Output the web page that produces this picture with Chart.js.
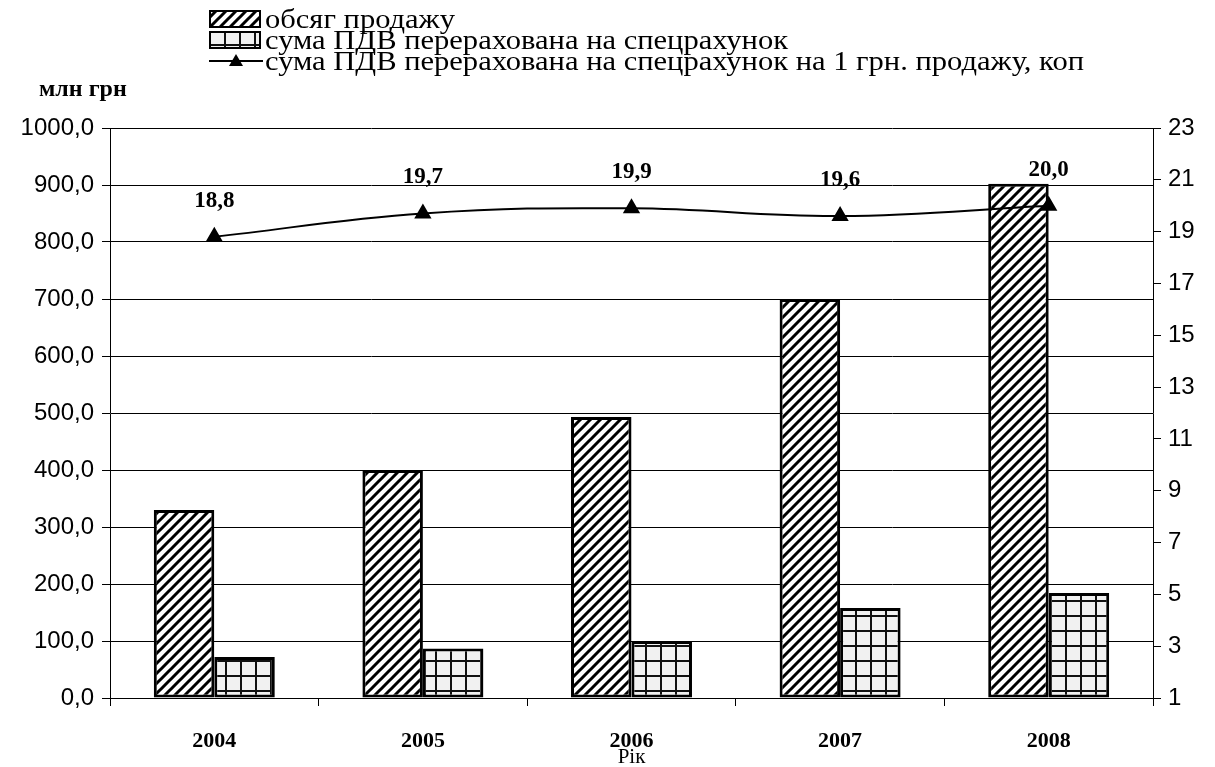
<!DOCTYPE html>
<html>
<head>
<meta charset="utf-8">
<script src="https://cdn.jsdelivr.net/npm/chart.js@4.4.1/dist/chart.umd.min.js"></script>
<style>
  html, body { margin: 0; padding: 0; background: #fff; }
  #wrap { position: relative; width: 1215px; height: 767px; }
  #grafico { position: absolute; left: 0; top: 0; }
  .fila { position: absolute; left: 209px; height: 22px; white-space: nowrap; }
  .fila canvas { position: absolute; left: 0; top: 0; }
  .fila span { position: absolute; left: 56px; top: 0; line-height: 22px;
    font-family: "Liberation Serif", serif; font-size: 27px; color: #000;
    transform-origin: 0 50%; }
  #unidad { position: absolute; left: 39px; top: 75px; font-family: "Liberation Serif", serif;
    font-weight: bold; font-size: 24px; }
</style>
</head>
<body>
<div id="wrap">
  <canvas id="grafico" width="1215" height="767"></canvas>
  <div class="fila" style="top:8px"><canvas id="sw0" width="52" height="22"></canvas><span>обсяг продажу</span></div>
  <div class="fila" style="top:29px"><canvas id="sw1" width="52" height="22"></canvas><span>сума ПДВ перерахована на спецрахунок</span></div>
  <div class="fila" style="top:50px"><canvas id="sw2" width="54" height="22"></canvas><span>сума ПДВ перерахована на спецрахунок на 1 грн. продажу, коп</span></div>
  <div id="unidad">млн грн</div>
</div>
<script>
const anios = ["2004", "2005", "2006", "2007", "2008"];
const obsyagProdazhu = [330, 400, 493, 700, 902];
const sumaPDV = [72, 87, 100, 158, 184];
const pdvNaGrn = [18.8, 19.7, 19.9, 19.6, 20.0];
const ticksIzq = [0, 100, 200, 300, 400, 500, 600, 700, 800, 900, 1000];
const ticksDer = [1, 3, 5, 7, 9, 11, 13, 15, 17, 19, 21, 23];

function patronRayas() {
  const c = document.createElement("canvas");
  c.width = 10; c.height = 10;
  const g = c.getContext("2d");
  g.fillStyle = "#fff";
  g.fillRect(0, 0, 10, 10);
  g.strokeStyle = "#000";
  g.lineWidth = 3;
  g.beginPath();
  g.moveTo(-1, 11); g.lineTo(11, -1);
  g.moveTo(-3, 3); g.lineTo(3, -3);
  g.moveTo(7, 13); g.lineTo(13, 7);
  g.stroke();
  return c;
}

function patronCuadros() {
  const c = document.createElement("canvas");
  c.width = 15; c.height = 15;
  const g = c.getContext("2d");
  g.fillStyle = "#f1f1f1";
  g.fillRect(0, 0, 15, 15);
  g.fillStyle = "#111";
  g.fillRect(0, 0, 15, 2);
  g.fillRect(0, 0, 2, 15);
  return c;
}

const ctx = document.getElementById("grafico").getContext("2d");
const rayas = ctx.createPattern(patronRayas(), "repeat");
const cuadros = ctx.createPattern(patronCuadros(), "repeat");

// muestras de la leyenda
(function () {
  let g = document.getElementById("sw0").getContext("2d");
  g.fillStyle = g.createPattern(patronRayas(), "repeat");
  g.fillRect(1, 3, 50, 16);
  g.lineWidth = 2; g.strokeStyle = "#000"; g.strokeRect(1, 3, 50, 16);
  g = document.getElementById("sw1").getContext("2d");
  g.fillStyle = g.createPattern(patronCuadros(), "repeat");
  g.fillRect(1, 3, 50, 16);
  g.lineWidth = 2; g.strokeStyle = "#000"; g.strokeRect(1, 3, 50, 16);
  g = document.getElementById("sw2").getContext("2d");
  g.strokeStyle = "#000"; g.lineWidth = 2;
  g.beginPath(); g.moveTo(0, 11); g.lineTo(54, 11); g.stroke();
  g.fillStyle = "#000";
  g.beginPath(); g.moveTo(27, 4); g.lineTo(34, 16); g.lineTo(20, 16); g.closePath(); g.fill();
})();

// ajustar el ancho del texto de la leyenda al de la referencia
(function () {
  const spans = document.querySelectorAll(".fila span");
  const ultimo = spans[spans.length - 1];
  const k = 819 / ultimo.getBoundingClientRect().width;
  spans.forEach(s => s.style.transform = "scaleX(" + k + ")");
})();

const etiquetas = {
  id: "etiquetas",
  afterDatasetsDraw(chart) {
    const meta = chart.getDatasetMeta(0);
    const c = chart.ctx;
    c.save();
    c.font = "bold 23px 'Liberation Serif'";
    c.fillStyle = "#000";
    c.textAlign = "center";
    c.textBaseline = "middle";
    meta.data.forEach((p, i) => {
      c.fillText(pdvNaGrn[i].toFixed(1).replace(".", ","), p.x, p.y - 36);
    });
    c.restore();
  }
};

new Chart(ctx, {
  data: {
    labels: anios,
    datasets: [
      {
        type: "line",
        label: "сума ПДВ перерахована на спецрахунок на 1 грн. продажу, коп",
        data: pdvNaGrn,
        yAxisID: "y1",
        borderColor: "#000",
        borderWidth: 2,
        backgroundColor: "#000",
        pointStyle: "triangle",
        pointRadius: 8,
        tension: 0.4,
        order: 0
      },
      {
        type: "bar",
        label: "обсяг продажу",
        data: obsyagProdazhu,
        yAxisID: "y",
        backgroundColor: rayas,
        borderColor: "#000",
        borderWidth: 3,
        borderSkipped: false,
        barPercentage: 1,
        categoryPercentage: 0.58,
        order: 1
      },
      {
        type: "bar",
        label: "сума ПДВ перерахована на спецрахунок",
        data: sumaPDV,
        yAxisID: "y",
        backgroundColor: cuadros,
        borderColor: "#000",
        borderWidth: 3,
        borderSkipped: false,
        barPercentage: 1,
        categoryPercentage: 0.58,
        order: 2
      }
    ]
  },
  options: {
    responsive: false,
    animation: false,
    layout: { padding: { top: 128, left: 0, right: 0, bottom: 0 } },
    plugins: { legend: { display: false }, tooltip: { enabled: false } },
    scales: {
      x: {
        offset: true,
        afterFit: s => { s.height = 69; },
        grid: { offset: true, drawOnChartArea: false, color: "#000", tickLength: 8 },
        border: { color: "#000", width: 1 },
        ticks: { color: "#000", padding: 22, font: { family: "Liberation Serif", size: 22, weight: "bold" } },
        title: { display: true, text: "Рік", color: "#000", padding: 0,
          font: { family: "Liberation Serif", size: 21, lineHeight: 0.9 } }
      },
      y: {
        position: "left",
        min: 0, max: 1000,
        afterFit: s => { s.width = 110; },
        afterBuildTicks: s => { s.ticks = ticksIzq.map(v => ({ value: v })); },
        grid: { color: "#000", lineWidth: 1, tickLength: 8 },
        border: { color: "#000", width: 1 },
        ticks: { color: "#000", padding: 8, font: { family: "Liberation Sans", size: 24 },
          callback: v => v.toFixed(1).replace(".", ",") }
      },
      y1: {
        position: "right",
        min: 1, max: 23,
        afterFit: s => { s.width = 62; },
        afterBuildTicks: s => { s.ticks = ticksDer.map(v => ({ value: v })); },
        grid: { drawOnChartArea: false, color: "#000", tickLength: 8 },
        border: { color: "#000", width: 1 },
        ticks: { color: "#000", padding: 7, font: { family: "Liberation Sans", size: 24 } }
      }
    }
  },
  plugins: [etiquetas]
});
</script>
</body>
</html>
